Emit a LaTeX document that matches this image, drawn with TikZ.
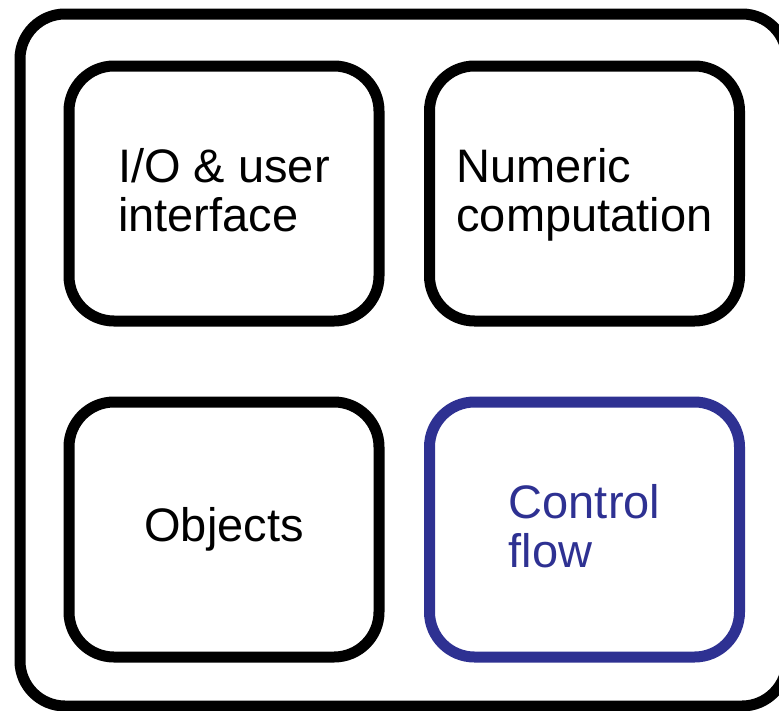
\documentclass[tikz,border=0pt]{standalone}
\usepackage{fontspec}
\setmainfont{Liberation Sans}
\definecolor{flowblue}{RGB}{46,49,146}
\tikzset{
  panel/.style={draw=black, line width=11pt, rounded corners=45pt,
    minimum width=310pt, minimum height=255pt, inner sep=0pt,
    align=left, font=\fontsize{47}{49}\selectfont},
  twoline/.style={text depth=8pt},
  frame/.style={draw=black, line width=11pt, rounded corners=45pt,
    minimum width=767pt, minimum height=692pt, inner sep=0pt}
}
\begin{document}
\begin{tikzpicture}[x=1pt, y=-1pt]
  \useasboundingbox (0,0) rectangle (779,710);
  % enclosing frame
  \node[frame] (outer) at (403.5,360) {};
  % four topic panels
  \node[panel, twoline] (io)  at (224,193.5) {I/O \& user\\interface};
  \node[panel, twoline] (num) at (584.5,193.5) {Numeric\\computation};
  \node[panel] (obj) at (224,529.5) {Objects};
  \node[panel, twoline, draw=flowblue, text=flowblue] (ctl) at (584.5,529.5) {Control\\flow};
\end{tikzpicture}
\end{document}
